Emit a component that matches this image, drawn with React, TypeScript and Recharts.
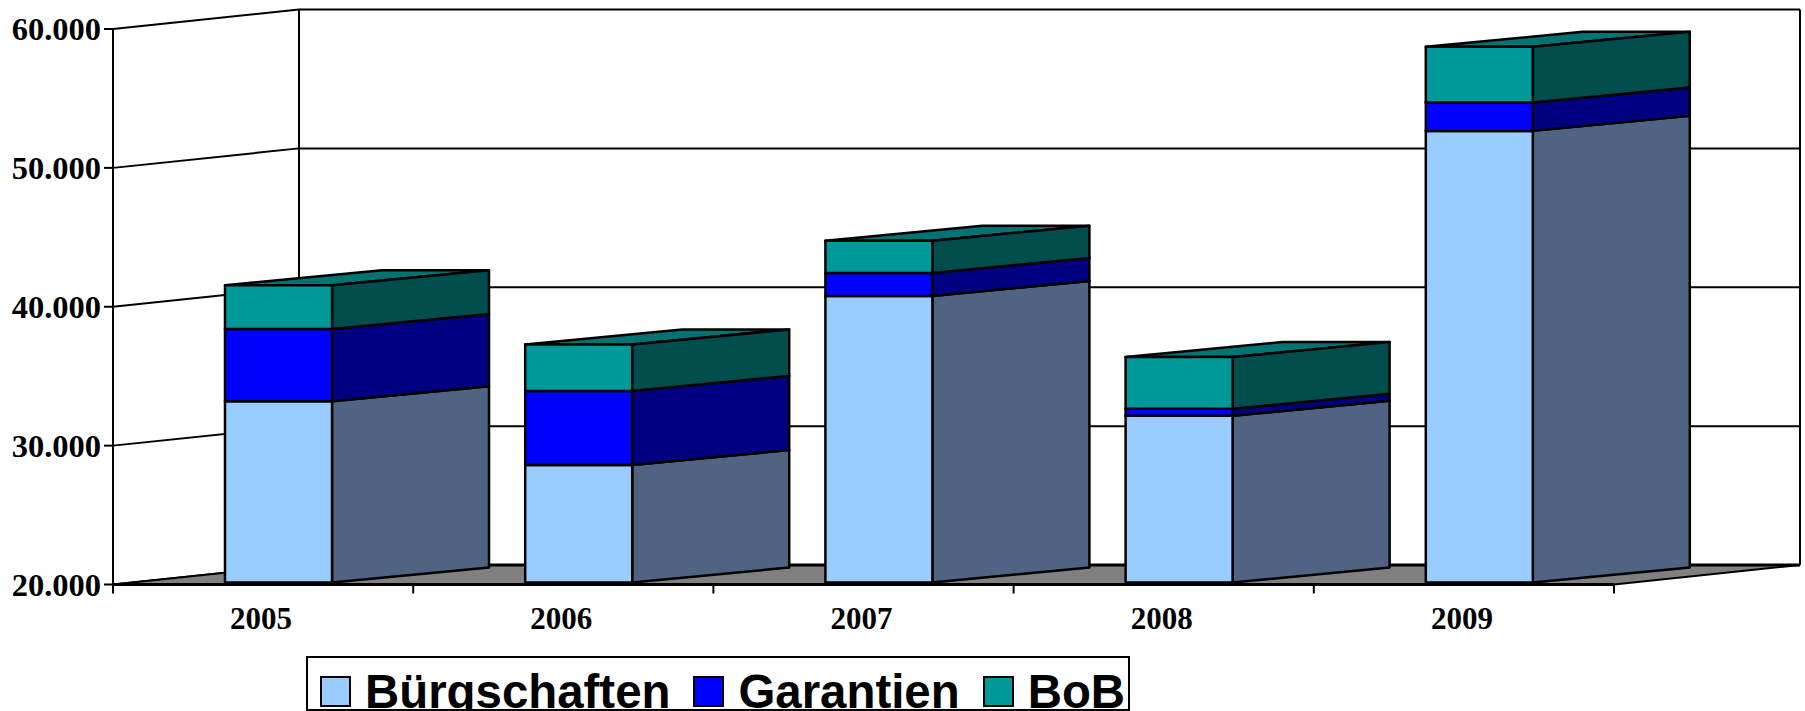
import React from 'react';
import { BarChart, Bar, XAxis, YAxis, Legend, CartesianGrid } from 'recharts';

const years = ['2005', '2006', '2007', '2008', '2009'];
const seriesNames = ['Bürgschaften', 'Garantien', 'BoB'];
const buergschaften = [33050, 28460, 40630, 32000, 52520];
const garantien = [5210, 5335, 1660, 505, 2040];
const bob = [3150, 3345, 2320, 3730, 4015];
const yTicks = [20000, 30000, 40000, 50000, 60000];

const chartData = years.map((year, i) => ({
  year,
  'Bürgschaften': buergschaften[i],
  Garantien: garantien[i],
  BoB: bob[i],
}));

// layout of the fake 3D box
const WIDTH = 1805;
const HEIGHT = 711;
const AXIS_X = 113;
const AXIS_RIGHT = 1614;
const PLOT_TOP = 29;
const PLOT_BOTTOM = 584.5;
const WALL_DX = 186;
const WALL_DY = 19.5;
const BAND = (AXIS_RIGHT - AXIS_X) / years.length;

// bars sit a bit behind the front plane
const BAR_SHIFT_X = 15;
const BAR_SHIFT_Y = 2;
const BAR_DX = 157;
const BAR_DY = 15;

const serif = '"Liberation Serif", serif';
const sans = '"Liberation Sans", sans-serif';

const sideColors: { [key: string]: string } = {
  '#99CCFF': '#4F6482',
  '#0000FF': '#000080',
  '#009999': '#004D4D',
};
const topColors: { [key: string]: string } = {
  '#99CCFF': '#7399BF',
  '#0000FF': '#0000BF',
  '#009999': '#007373',
};

const Box3D = (props: any) => {
  const { x, y, width, height, fill } = props;
  const left = x + BAR_SHIFT_X;
  const right = left + width;
  const top = y - BAR_SHIFT_Y;
  // the stack starts at 0 but the axis starts at 20.000
  const bottom = Math.min(y + height, PLOT_BOTTOM) - BAR_SHIFT_Y;
  const line = { stroke: '#000', strokeWidth: 2.5, strokeLinejoin: 'round' as const };
  return (
    <g>
      <polygon
        points={`${left},${top} ${right},${top} ${right + BAR_DX},${top - BAR_DY} ${left + BAR_DX},${top - BAR_DY}`}
        fill={topColors[fill]}
        {...line}
      />
      <polygon
        points={`${right},${top} ${right + BAR_DX},${top - BAR_DY} ${right + BAR_DX},${bottom - BAR_DY} ${right},${bottom}`}
        fill={sideColors[fill]}
        {...line}
      />
      <rect x={left} y={top} width={width} height={bottom - top} fill={fill} {...line} />
    </g>
  );
};

const Walls = () => {
  const backLeft = AXIS_X + WALL_DX;
  const backRight = AXIS_RIGHT + WALL_DX;
  const backTop = PLOT_TOP - WALL_DY;
  const backBottom = PLOT_BOTTOM - WALL_DY;
  return (
    <g stroke="#000" strokeWidth={2}>
      <polygon
        points={`${AXIS_X},${PLOT_BOTTOM} ${backLeft},${backBottom} ${backRight},${backBottom} ${AXIS_RIGHT},${PLOT_BOTTOM}`}
        fill="#808080"
      />
      <line x1={backLeft} y1={backTop} x2={backLeft} y2={backBottom} />
      <line x1={backRight} y1={backTop} x2={backRight} y2={backBottom} />
      <line x1={AXIS_X} y1={PLOT_BOTTOM} x2={AXIS_RIGHT} y2={PLOT_BOTTOM} strokeWidth={3} />
      <line x1={backLeft} y1={backBottom} x2={backRight} y2={backBottom} strokeWidth={3} />
    </g>
  );
};

// grid line that runs along the side wall and then the back wall
const GridLine = (props: any) => {
  const { y1 } = props;
  const backY = y1 - WALL_DY;
  return (
    <polyline
      key={y1}
      points={`${AXIS_X},${y1} ${AXIS_X + WALL_DX},${backY} ${AXIS_RIGHT + WALL_DX},${backY}`}
      fill="none"
      stroke="#000"
      strokeWidth={2}
    />
  );
};

const YTick = (props: any) => {
  const { y, payload } = props;
  return (
    <text
      x={AXIS_X - 12}
      y={y + 11}
      textAnchor="end"
      fontFamily={serif}
      fontWeight="bold"
      fontSize={32.5}
      fill="#000"
    >
      {(payload.value / 1000).toFixed(3)}
    </text>
  );
};

const XTick = (props: any) => {
  const { x, payload, index } = props;
  const tickEnd = PLOT_BOTTOM + 9;
  return (
    <g>
      <line x1={x - BAND / 2} y1={PLOT_BOTTOM} x2={x - BAND / 2} y2={tickEnd} stroke="#000" strokeWidth={2} />
      {index === years.length - 1 && (
        <line x1={x + BAND / 2} y1={PLOT_BOTTOM} x2={x + BAND / 2} y2={tickEnd} stroke="#000" strokeWidth={2} />
      )}
      <text x={x - 2} y={629} textAnchor="middle" fontFamily={serif} fontWeight="bold" fontSize={31} fill="#000">
        {payload.value}
      </text>
    </g>
  );
};

const LegendBox = (props: any) => {
  const { payload } = props;
  return (
    <div
      style={{
        boxSizing: 'border-box',
        width: 824,
        height: 55,
        border: '2px solid #000',
        overflow: 'hidden',
        display: 'flex',
        paddingLeft: 12,
        gap: 23,
        background: '#fff',
      }}
    >
      {payload.map((entry: any) => (
        <div key={entry.value} style={{ display: 'flex', alignItems: 'flex-start', gap: 14 }}>
          <span
            style={{
              boxSizing: 'border-box',
              width: 31,
              height: 31,
              marginTop: 18,
              border: '2px solid #000',
              background: entry.color,
            }}
          />
          <span
            style={{
              fontFamily: sans,
              fontWeight: 'bold',
              fontSize: 47.4,
              lineHeight: '54px',
              marginTop: 7,
              color: '#000',
            }}
          >
            {entry.value}
          </span>
        </div>
      ))}
    </div>
  );
};

export default function App() {
  return (
    <div style={{ position: 'absolute', left: 0, top: 0, width: WIDTH, height: HEIGHT, background: '#fff' }}>
      <BarChart
        width={WIDTH}
        height={HEIGHT}
        data={chartData}
        barSize={107}
        margin={{ top: PLOT_TOP, right: WIDTH - AXIS_RIGHT - WALL_DX, bottom: 0, left: 0 }}
      >
        <Walls />
        <CartesianGrid horizontal={<GridLine />} vertical={false} />
        <YAxis
          width={AXIS_X}
          type="number"
          domain={[20000, 60000]}
          allowDataOverflow
          ticks={yTicks}
          interval={0}
          tickSize={9}
          stroke="#000"
          strokeWidth={2}
          tick={<YTick />}
        />
        <XAxis
          dataKey="year"
          height={HEIGHT - PLOT_BOTTOM}
          padding={{ left: 0, right: WALL_DX }}
          axisLine={false}
          tickLine={false}
          interval={0}
          tick={<XTick />}
        />
        <Legend
          layout="horizontal"
          align="center"
          verticalAlign="middle"
          content={<LegendBox />}
          itemSorter={(item: any) => seriesNames.indexOf(item.value)}
          wrapperStyle={{ left: 306, top: 656, width: 824, height: 55 }}
        />
        <Bar dataKey="Bürgschaften" stackId="a" fill="#99CCFF" shape={<Box3D />} isAnimationActive={false} />
        <Bar dataKey="Garantien" stackId="a" fill="#0000FF" shape={<Box3D />} isAnimationActive={false} />
        <Bar dataKey="BoB" stackId="a" fill="#009999" shape={<Box3D />} isAnimationActive={false} />
      </BarChart>
    </div>
  );
}
